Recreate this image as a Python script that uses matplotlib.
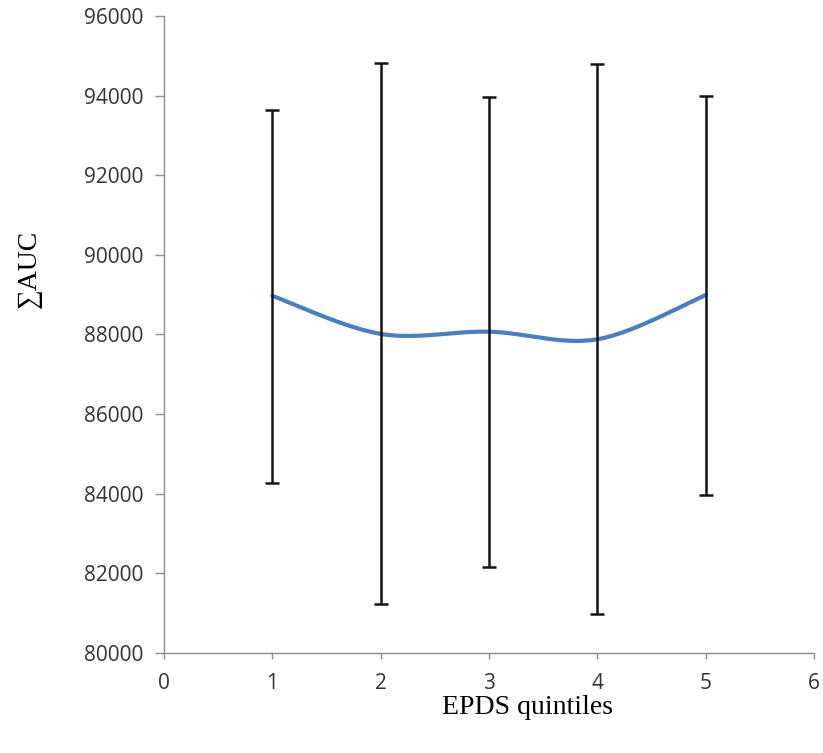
import numpy as np
import matplotlib
matplotlib.use("Agg")
import matplotlib.pyplot as plt

# EPDS quintile means of summed AUC with their upper/lower error limits
quintiles = [1, 2, 3, 4, 5]
auc_mean = [88970, 88015, 88070, 87880, 88990]
auc_upper = [93640, 94820, 93960, 94795, 93990]
auc_lower = [84280, 81240, 82160, 80970, 83970]


def smooth_curve(xs, ys, steps=40):
    # Catmull-Rom style smoothing, like a spreadsheet's "smoothed line"
    xs = np.asarray(xs, float)
    ys = np.asarray(ys, float)
    px = np.concatenate([[xs[0]], xs, [xs[-1]]])
    py = np.concatenate([[ys[0]], ys, [ys[-1]]])
    out_x, out_y = [], []
    for i in range(1, len(px) - 2):
        p0 = np.array([px[i], py[i]])
        p3 = np.array([px[i + 1], py[i + 1]])
        c1 = p0 + (p3 - np.array([px[i - 1], py[i - 1]])) / 6.0
        c2 = p3 - (np.array([px[i + 2], py[i + 2]]) - p0) / 6.0
        t = np.linspace(0, 1, steps)[:, None]
        b = ((1 - t) ** 3) * p0 + 3 * ((1 - t) ** 2) * t * c1 \
            + 3 * (1 - t) * t ** 2 * c2 + t ** 3 * p3
        out_x.extend(b[:, 0])
        out_y.extend(b[:, 1])
    return np.array(out_x), np.array(out_y)


fig = plt.figure(figsize=(8.23, 7.53), dpi=100)
ax = fig.add_axes([0.1993, 0.1328, 0.7897, 0.8460])

sx, sy = smooth_curve(quintiles, auc_mean)
ax.plot(sx, sy, color="#4a7ebf", lw=3.0, solid_capstyle="round", zorder=2)

mean = np.array(auc_mean)
yerr = [mean - np.array(auc_lower), np.array(auc_upper) - mean]
ax.errorbar(quintiles, auc_mean, yerr=yerr, fmt="none", ecolor="#141414",
            elinewidth=1.8, capsize=5, capthick=1.8, zorder=3)

ax.set_xlim(0, 6)
ax.set_ylim(80000, 96000)
ax.set_xticks(range(0, 7))
ax.set_yticks(range(80000, 96001, 2000))

for side in ("top", "right"):
    ax.spines[side].set_visible(False)
for side in ("left", "bottom"):
    ax.spines[side].set_color("#8c8c8c")
    ax.spines[side].set_linewidth(1.0)

ax.tick_params(axis="y", direction="out", length=6.5, width=1.0,
               color="#8c8c8c", pad=8.5, labelsize=15, labelcolor="#333333")
ax.tick_params(axis="x", direction="out", length=4.5, width=1.0,
               color="#8c8c8c", pad=10, labelsize=15, labelcolor="#333333")
for lab in ax.get_xticklabels() + ax.get_yticklabels():
    lab.set_fontfamily("Open Sans")

fig.text(0.6415, 0.060, "EPDS quintiles", ha="center", va="center",
         fontsize=20, family="Liberation Serif")
fig.text(0.036, 0.643, "\u2211AUC", ha="center", va="center", rotation=90,
         fontsize=20, family=["Liberation Serif", "DejaVu Serif"])

fig.savefig("out.png", dpi=100, facecolor="white")
